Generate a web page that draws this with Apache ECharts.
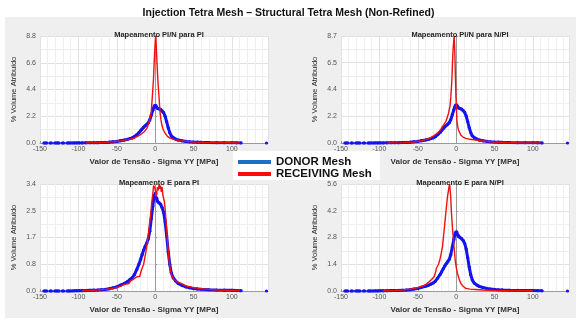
<!DOCTYPE html>
<html>
<head>
<meta charset="utf-8">
<script src="https://cdn.jsdelivr.net/npm/echarts@6/dist/echarts.min.js"></script>
<style>
  html, body { margin: 0; padding: 0; background: #ffffff; }
  #chart { width: 577px; height: 320px; }
</style>
</head>
<body>
<div id="chart"></div>
<script>
// Stress histograms: % of volume per Sigma YY bin, donor vs receiving mesh
const mainTitle = 'Injection Tetra Mesh \u2013 Structural Tetra Mesh (Non-Refined)';
const panelTitles = ['Mapeamento PI/N para PI', 'Mapeamento PI/N para N/PI', 'Mapeamento E para PI', 'Mapeamento E para N/PI'];
const seriesNames = ['DONOR Mesh', 'RECEIVING Mesh'];
const xLabelText = 'Valor de Tens\u00e3o - Sigma YY [MPa]';
const yLabelText = '% Volume Atribuido';

// x axis range and tick step (MPa)
const xMin = -150, xMax = 147, xStep = 50;

// y axis ranges and printed tick labels for each panel
const yMaxes = [8.8, 8.7, 3.4, 5.6];
const yTickLabels = [
  ['0.0', '2.2', '4.4', '6.6', '8.8'],
  ['0.0', '2.2', '4.4', '6.5', '8.7'],
  ['0.0', '0.8', '1.7', '2.5', '3.4'],
  ['0.0', '1.4', '2.8', '4.2', '5.6']
];

// donor mesh distribution (same source mesh in every panel); null = empty bin
const donorPoints = [
  [-145, 0], [-143, 0], [-141, 0], [-139, null], [-137, 0], [-135, 0], [-133, null],
  [-131, 0], [-129, 0], [-127, 0], [-125, 0], [-123, null], [-121, 0], [-119, 0], [-117, null],
  [-115, 0], [-113, 0], [-111, 0], [-108, 0], [-105, 0.005], [-102, 0.005], [-99, 0.01],
  [-95, 0.01], [-90, 0.015], [-85, 0.02], [-80, 0.025], [-75, 0.03], [-70, 0.04], [-65, 0.05],
  [-60, 0.07], [-55, 0.1], [-50, 0.13], [-45, 0.19], [-40, 0.24], [-36, 0.3], [-33, 0.36],
  [-30, 0.42], [-27, 0.52], [-24, 0.68], [-21, 0.86], [-19, 1.0], [-17, 1.15], [-15, 1.3],
  [-13, 1.42], [-11, 1.52], [-9, 1.65], [-7, 1.9], [-5, 2.3], [-3, 2.7], [-2, 2.9], [-1, 3.05],
  [0, 3.1], [1, 3.08], [2, 2.95], [3, 2.85], [5, 2.8], [7, 2.76], [9, 2.65], [11, 2.5],
  [13, 2.2], [15, 1.75], [17, 1.25], [19, 0.85], [21, 0.58], [23.5, 0.42], [27, 0.31],
  [30, 0.24], [35, 0.18], [40, 0.13], [45, 0.1], [50, 0.08], [55, 0.065], [60, 0.055],
  [70, 0.04], [80, 0.03], [90, 0.025], [100, 0.02], [106, 0.015], [112, 0.01], [128, null], [145, 0]
];

// receiving mesh: PI/N -> PI
const receivingPiNtoPi = [
  [-90, 0.01], [-70, 0.04], [-55, 0.1], [-45, 0.17], [-35, 0.28], [-28, 0.38], [-19.5, 0.66],
  [-14, 0.95], [-10.8, 1.2], [-8, 1.7], [-6.5, 2.1], [-5.2, 2.44], [-3.7, 3.8], [-2.2, 5.2],
  [-1, 7.0], [0.2, 8.5], [0.9, 8.8], [1.8, 7.5], [2.7, 6.2], [3.5, 5.2], [5, 3.8], [6.5, 2.44],
  [7.6, 1.9], [8.7, 1.48], [10.5, 1.1], [13, 0.8], [16, 0.55], [19.5, 0.4], [25, 0.28],
  [32.5, 0.2], [40, 0.13], [50, 0.08], [65, 0.05], [80, 0.03], [95, 0.02], [110, 0.01]
];

// receiving mesh: PI/N -> N/PI
const receivingPiNtoNpi = [
  [-90, 0.01], [-70, 0.03], [-55, 0.08], [-45, 0.18], [-35, 0.38], [-30, 0.55], [-24.4, 0.8],
  [-20, 1.1], [-17.9, 1.33], [-13.5, 1.73], [-10, 2.4], [-8, 3.0], [-6.9, 3.77], [-5.5, 5.2],
  [-4.8, 6.5], [-3.8, 7.8], [-2.6, 8.7], [-1.8, 7.5], [-1, 5.5], [-0.3, 3.8], [0.3, 2.95],
  [0.9, 1.87], [2, 1.35], [3, 1.06], [6, 0.65], [9, 0.48], [12.6, 0.38], [18, 0.3],
  [25.7, 0.24], [32, 0.18], [40, 0.12], [50, 0.08], [65, 0.04], [80, 0.02], [100, 0.01], [110, 0.01]
];

// receiving mesh: E -> PI
const receivingEtoPi = [
  [-95, 0.01], [-85, 0.02], [-75, 0.03], [-65, 0.05], [-58, 0.07], [-52, 0.1], [-48, 0.13],
  [-44, 0.16], [-41, 0.2], [-38, 0.22], [-36, 0.27], [-34, 0.24], [-32, 0.32], [-30, 0.29],
  [-28, 0.38], [-26, 0.33], [-24, 0.45], [-22, 0.5], [-20, 0.47], [-18, 0.65], [-16.5, 0.7],
  [-15, 0.85], [-13.5, 1.05], [-12, 1.25], [-10.5, 1.5], [-9, 1.75], [-7.5, 2.1], [-6, 2.4],
  [-4.5, 2.8], [-3, 3.1], [-2, 3.35], [-1, 3.4], [0, 3.25], [1, 3.0], [2, 3.1], [3, 3.3],
  [4, 3.2], [5, 3.38], [6, 3.25], [7, 3.35], [8, 3.15], [9, 3.3], [10, 3.05], [11, 3.1],
  [12, 2.85], [13, 2.6], [14, 2.3], [15, 1.95], [16, 1.6], [17, 1.3], [18, 1.0], [19.5, 0.7],
  [21, 0.55], [22.5, 0.5], [24, 0.38], [26, 0.4], [28, 0.3], [30, 0.33], [33, 0.25], [36, 0.22],
  [40, 0.16], [45, 0.14], [50, 0.1], [55, 0.09], [60, 0.07], [70, 0.05], [80, 0.03], [90, 0.02],
  [100, 0.02], [110, 0.01]
];

// receiving mesh: E -> N/PI
const receivingEtoNpi = [
  [-95, 0.01], [-80, 0.03], [-70, 0.05], [-60, 0.09], [-52, 0.15], [-44, 0.26], [-40, 0.33],
  [-35, 0.49], [-32, 0.6], [-28.7, 0.75], [-27, 0.95], [-25.7, 1.19], [-24, 1.25], [-23, 1.4],
  [-21.3, 1.62], [-19.5, 1.95], [-17.8, 2.32], [-15.6, 3.19], [-13.5, 4.07], [-11.3, 4.94],
  [-9.5, 5.4], [-8.5, 5.6], [-7.2, 5.0], [-6.1, 4.07], [-4.8, 3.3], [-3.5, 2.67], [-1.3, 1.62],
  [0.3, 1.2], [1.7, 0.93], [4, 0.6], [6.1, 0.4], [9, 0.25], [12.6, 0.14], [18, 0.1], [25, 0.08],
  [35, 0.05], [50, 0.03], [65, 0.02], [80, 0.01], [100, 0.01]
];

const receivingSets = [receivingPiNtoPi, receivingPiNtoNpi, receivingEtoPi, receivingEtoNpi];

// layout of the four plot boxes
const boxes = [
  { left: 40, top: 36 }, { left: 341, top: 36 },
  { left: 40, top: 184 }, { left: 341, top: 184 }
];
const boxW = 228, boxH = 107;

const FONT = '"Liberation Sans", Arial, Helvetica, sans-serif';
const donorLineColor = '#1414f0';
const receivingLineColor = '#f01010';
const donorLegendColor = '#1a70c4';
const receivingLegendColor = '#ff0a0a';

const grids = [], xAxes = [], yAxes = [], series = [], titles = [];

titles.push({
  text: mainTitle, left: 'center', top: 3,
  textStyle: { fontFamily: FONT, fontSize: 10.5, fontWeight: 'bold', color: '#111' }
});

boxes.forEach((b, i) => {
  grids.push({
    left: b.left, top: b.top, width: boxW, height: boxH,
    show: true, backgroundColor: '#ffffff', borderWidth: 0
  });
  titles.push({
    text: panelTitles[i], left: b.left + boxW / 2, top: b.top - 10, textAlign: 'center',
    textStyle: { fontFamily: FONT, fontSize: 7.5, fontWeight: 'bold', color: '#262626' }
  });
  xAxes.push({
    type: 'value', gridIndex: i, min: xMin, max: xMax, interval: xStep,
    name: xLabelText, nameLocation: 'middle', nameGap: 15,
    nameTextStyle: { fontFamily: FONT, fontSize: 8, fontWeight: 'bold', color: '#333' },
    axisLine: { show: true, onZero: false, lineStyle: { color: '#9a9a9a', width: 1 } },
    axisTick: { show: true, inside: true, length: 2, lineStyle: { color: '#9a9a9a' } },
    axisLabel: { fontFamily: FONT, fontSize: 7, color: '#555', margin: 3, showMaxLabel: false },
    splitLine: { show: true, lineStyle: { color: '#e2e2e2', width: 1 } },
    minorTick: { show: false, splitNumber: 5 },
    minorSplitLine: { show: true, lineStyle: { color: '#eeeeee', width: 1 } }
  });
  const labels = yTickLabels[i];
  const step = yMaxes[i] / (labels.length - 1);
  yAxes.push({
    type: 'value', gridIndex: i, min: 0, max: yMaxes[i], interval: step,
    name: yLabelText, nameLocation: 'middle', nameGap: 22,
    nameTextStyle: { fontFamily: FONT, fontSize: 7.5, color: '#262626' },
    axisLine: { show: true, lineStyle: { color: '#9a9a9a', width: 1 } },
    axisTick: { show: true, inside: true, length: 2, lineStyle: { color: '#9a9a9a' } },
    axisLabel: {
      fontFamily: FONT, fontSize: 7, color: '#555', margin: 4,
      formatter: v => labels[Math.round(v / step)] || ''
    },
    splitLine: { show: true, lineStyle: { color: '#e2e2e2', width: 1 } },
    minorTick: { show: false, splitNumber: 2 },
    minorSplitLine: { show: true, lineStyle: { color: '#eeeeee', width: 1 } }
  });
  series.push({
    name: seriesNames[0], type: 'line', xAxisIndex: i, yAxisIndex: i,
    data: donorPoints, connectNulls: false,
    showSymbol: true, showAllSymbol: true, symbol: 'circle', symbolSize: 3.2,
    itemStyle: { color: donorLineColor },
    lineStyle: { color: donorLineColor, width: 3 },
    clip: true, z: 2
  });
  series.push({
    name: seriesNames[1], type: 'line', xAxisIndex: i, yAxisIndex: i,
    data: receivingSets[i], showSymbol: false,
    itemStyle: { color: receivingLineColor },
    lineStyle: { color: receivingLineColor, width: 1.4 },
    clip: false, z: 3
  });
});

const chart = echarts.init(document.getElementById('chart'), null, { renderer: 'canvas' });
chart.setOption({
  animation: false,
  backgroundColor: '#ffffff',
  title: titles,
  grid: grids,
  xAxis: xAxes,
  yAxis: yAxes,
  series: series,
  legend: {
    orient: 'vertical', left: 233, top: 151,
    backgroundColor: '#ffffff', borderWidth: 0,
    padding: [5, 8, 0, 5], itemGap: 0,
    icon: 'rect', itemWidth: 33, itemHeight: 4, itemStyle: { borderWidth: 0 },
    textStyle: { fontFamily: FONT, fontSize: 11.5, fontWeight: 'bold', color: '#111', lineHeight: 10, height: 10 },
    data: [
      { name: seriesNames[0], itemStyle: { color: donorLegendColor } },
      { name: seriesNames[1], itemStyle: { color: receivingLegendColor } }
    ],
    z: 10
  },
  graphic: [{
    type: 'rect', z: -10, silent: true,
    shape: { x: 5, y: 17, width: 571, height: 301 },
    style: { fill: '#efefef' }
  }]
});
</script>
</body>
</html>
